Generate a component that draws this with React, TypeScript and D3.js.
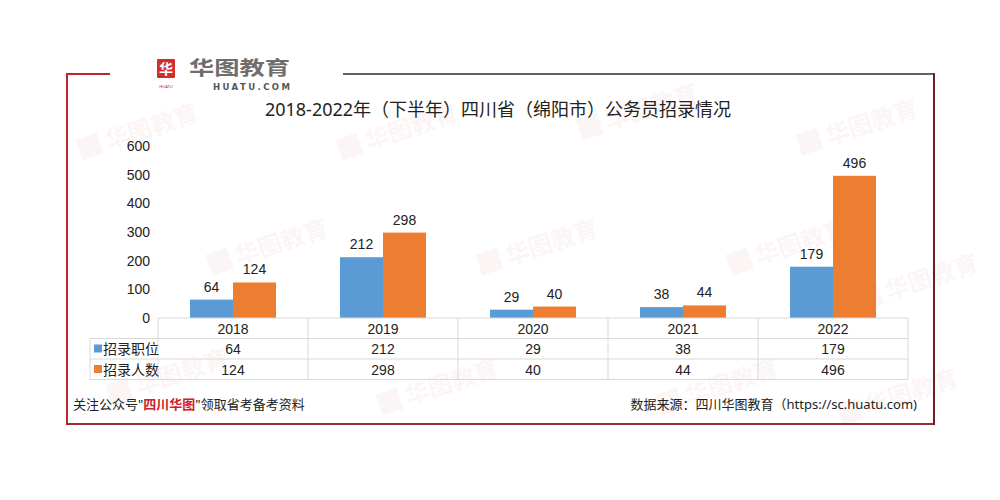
import React from "react";
import * as d3 from "d3";

const categories = ["2018", "2019", "2020", "2021", "2022"];
const positions = [64, 212, 29, 38, 179];
const hires = [124, 298, 40, 44, 496];
const seriesNames = ["招录职位", "招录人数"];
const yTicks = [0, 100, 200, 300, 400, 500, 600];
const colors = ["#5b9bd5", "#ed7d31"];

const W = 1000;
const H = 500;

export default function App() {
  const x = d3.scaleBand<string>().domain(categories).range([158, 908]).paddingInner(0).paddingOuter(0);
  const groupPad = (x.bandwidth() - 86) / 2;
  const inner = d3
    .scaleBand<number>()
    .domain([0, 1])
    .range([groupPad, x.bandwidth() - groupPad]);
  const y = d3.scaleLinear().domain([0, 600]).range([318, 146]);
  const series = [positions, hires];
  const font = "'Noto Sans', 'Noto Sans CJK SC', sans-serif";
  const numFont = "'Liberation Sans', Arial, sans-serif";
  const rowTop = 318;
  const rowH = 20.5;
  const tableLeft = 90;
  const gridColor = "#d9d9d9";

  const watermarks = [
    [120, 140], [380, 140], [620, 120], [840, 135],
    [250, 255], [520, 255], [770, 255], [900, 290],
    [150, 385], [420, 395], [700, 395], [880, 405],
  ];

  return (
    <svg width={W} height={H} style={{ display: "block", margin: -8, background: "#fff" }} fontFamily={font}>
      <rect width={W} height={H} fill="#fff" />
      {/* watermarks */}
      {watermarks.map(([wx, wy], i) => (
        <g key={i} transform={`translate(${wx},${wy}) rotate(-18)`} opacity={0.045}>
          <rect x={-42} y={-14} width={22} height={22} fill="#d0302c" />
          <text x={-14} y={6} fontSize={24} fill="#d0302c" fontWeight="bold">华图教育</text>
        </g>
      ))}
      {/* frame */}
      <line x1={67} y1={74} x2={110} y2={74} stroke="#c0262d" strokeWidth={2} />
      <line x1={343} y1={74} x2={934} y2={74} stroke="#3a2a2a" strokeWidth={1.5} />
      <line x1={67} y1={73} x2={67} y2={424} stroke="#c0262d" strokeWidth={2} />
      <line x1={66} y1={424} x2={934} y2={424} stroke="#9b2b30" strokeWidth={2} />
      <line x1={934} y1={73} x2={934} y2={425} stroke="#6b1f24" strokeWidth={2} />
      {/* logo */}
      <rect x={157} y={59} width={18} height={19} fill="#d0302c" rx={1} />
      <text x={166} y={74} fontSize={14} fill="#fff" textAnchor="middle" fontWeight="bold">华</text>
      <text x={166} y={88} fontSize={4} fill="#c0262d" textAnchor="middle">HUATU</text>
      <text x={189} y={75} fontSize={19} fill="#6e6e6e" fontWeight="bold" textLength={101} lengthAdjust="spacingAndGlyphs">华图教育</text>
      <text x={213} y={90} fontSize={8.5} fill="#555" fontWeight="bold" fontFamily="'DejaVu Sans', sans-serif" textLength={77}>HUATU.COM</text>
      {/* title */}
      <text x={498} y={116} fontSize={18} fill="#222" textAnchor="middle">
        2018-2022年（下半年）四川省（绵阳市）公务员招录情况
      </text>
      {/* y axis labels */}
      {yTicks.map((t) => (
        <text key={t} x={150} y={y(t) + 5} fontSize={14} fill="#222" textAnchor="end" fontFamily={numFont}>
          {t}
        </text>
      ))}
      {/* bars */}
      {categories.map((c, ci) => (
        <g key={c} transform={`translate(${x(c)},0)`}>
          {series.map((s, si) => (
            <g key={si}>
              <rect
                x={inner(si)}
                y={y(s[ci])}
                width={inner.bandwidth()}
                height={y(0) - y(s[ci])}
                fill={colors[si]}
              />
              <text
                x={(inner(si) as number) + inner.bandwidth() / 2}
                y={y(s[ci]) - 8}
                fontSize={14}
                fill="#222"
                textAnchor="middle"
                fontFamily={numFont}
              >
                {s[ci]}
              </text>
            </g>
          ))}
        </g>
      ))}
      {/* table */}
      <g stroke={gridColor} strokeWidth={1} fill="none">
        <line x1={158} y1={rowTop} x2={908} y2={rowTop} />
        <line x1={tableLeft} y1={rowTop + rowH} x2={908} y2={rowTop + rowH} />
        <line x1={tableLeft} y1={rowTop + rowH * 2} x2={908} y2={rowTop + rowH * 2} />
        <line x1={tableLeft} y1={rowTop + rowH * 3} x2={908} y2={rowTop + rowH * 3} />
        <line x1={tableLeft} y1={rowTop + rowH} x2={tableLeft} y2={rowTop + rowH * 3} />
        {categories.map((c) => (
          <line key={c} x1={x(c)} y1={rowTop} x2={x(c)} y2={rowTop + rowH * 3} />
        ))}
        <line x1={908} y1={rowTop} x2={908} y2={rowTop + rowH * 3} />
      </g>
      {categories.map((c, ci) => (
        <g key={c} fontFamily={numFont} fontSize={14} fill="#222" textAnchor="middle">
          <text x={(x(c) as number) + x.bandwidth() / 2} y={rowTop + 15.5}>{c}</text>
          {series.map((s, si) => (
            <text key={si} x={(x(c) as number) + x.bandwidth() / 2} y={rowTop + rowH * (si + 1) + 15.5}>
              {s[ci]}
            </text>
          ))}
        </g>
      ))}
      {seriesNames.map((n, si) => (
        <g key={n}>
          <rect x={94} y={rowTop + rowH * (si + 1) + 6} width={8} height={8} fill={colors[si]} />
          <text x={103} y={rowTop + rowH * (si + 1) + 15.5} fontSize={14} fill="#222">{n}</text>
        </g>
      ))}
      {/* footer */}
      <text x={73} y={409} fontSize={13} fill="#222">
        关注公众号"<tspan fill="#d0202a" fontWeight="bold">四川华图</tspan>"领取省考备考资料
      </text>
      <text x={917} y={409} fontSize={13} fill="#222" textAnchor="end">
        数据来源：四川华图教育（https://sc.huatu.com)
      </text>
    </svg>
  );
}
